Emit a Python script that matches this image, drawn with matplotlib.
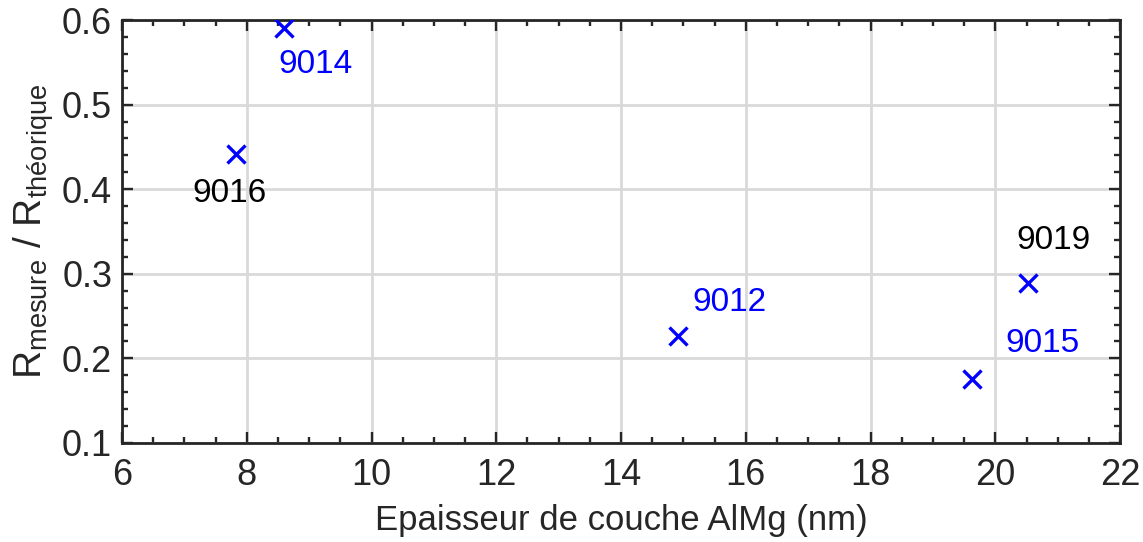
import matplotlib
matplotlib.use("Agg")
import matplotlib.pyplot as plt
from matplotlib.ticker import MultipleLocator

plt.rcParams["font.family"] = ["Liberation Sans", "DejaVu Sans"]
plt.rcParams["mathtext.fontset"] = "custom"
plt.rcParams["mathtext.rm"] = "Liberation Sans"
plt.rcParams["mathtext.it"] = "Liberation Sans"

# data
epaisseur = [7.83, 8.59, 14.91, 19.62, 20.53]
ratio = [0.442, 0.591, 0.227, 0.176, 0.289]

labels = ["9016", "9014", "9012", "9015", "9019"]
label_x = [7.73, 9.10, 15.73, 20.75, 20.93]
label_y = [0.395, 0.547, 0.266, 0.218, 0.339]
label_colors = ["black", "blue", "blue", "blue", "black"]

dark = "#262626"

fig = plt.figure(figsize=(11.43, 5.42), dpi=100)
ax = fig.add_axes([0.1067, 0.1827, 0.8733, 0.7803])

ax.plot(epaisseur, ratio, linestyle="none", marker="x", color="blue",
        markersize=13, markeredgewidth=2.4, zorder=3)

for t, x, y, c in zip(labels, label_x, label_y, label_colors):
    ax.text(x, y, t, color=c, fontsize=24, ha="center", va="center")

ax.set_xlim(6, 22)
ax.set_ylim(0.1, 0.6)
ax.xaxis.set_major_locator(MultipleLocator(2))
ax.xaxis.set_minor_locator(MultipleLocator(0.5))
ax.yaxis.set_major_locator(MultipleLocator(0.1))
ax.yaxis.set_minor_locator(MultipleLocator(0.02))

ax.grid(True, which="major", color="#d9d9d9", linewidth=2.0)
ax.set_axisbelow(True)

ax.tick_params(which="both", direction="in", top=True, right=True,
               color=dark, labelcolor=dark, labelsize=26, width=1.7)
ax.tick_params(which="major", length=8, pad=7)
ax.tick_params(which="minor", length=4.5)
ax.tick_params(axis="x", which="major", pad=11)
for s in ax.spines.values():
    s.set_color(dark)
    s.set_linewidth(2.0)

ax.set_xlabel("Epaisseur de couche AlMg (nm)", fontsize=25, color=dark, labelpad=8)
ax.set_ylabel(r"$\mathregular{R_{mesure}\ /\ R_{théorique}}$", fontsize=28,
              color=dark, labelpad=4)

fig.savefig("out.png", dpi=100)
